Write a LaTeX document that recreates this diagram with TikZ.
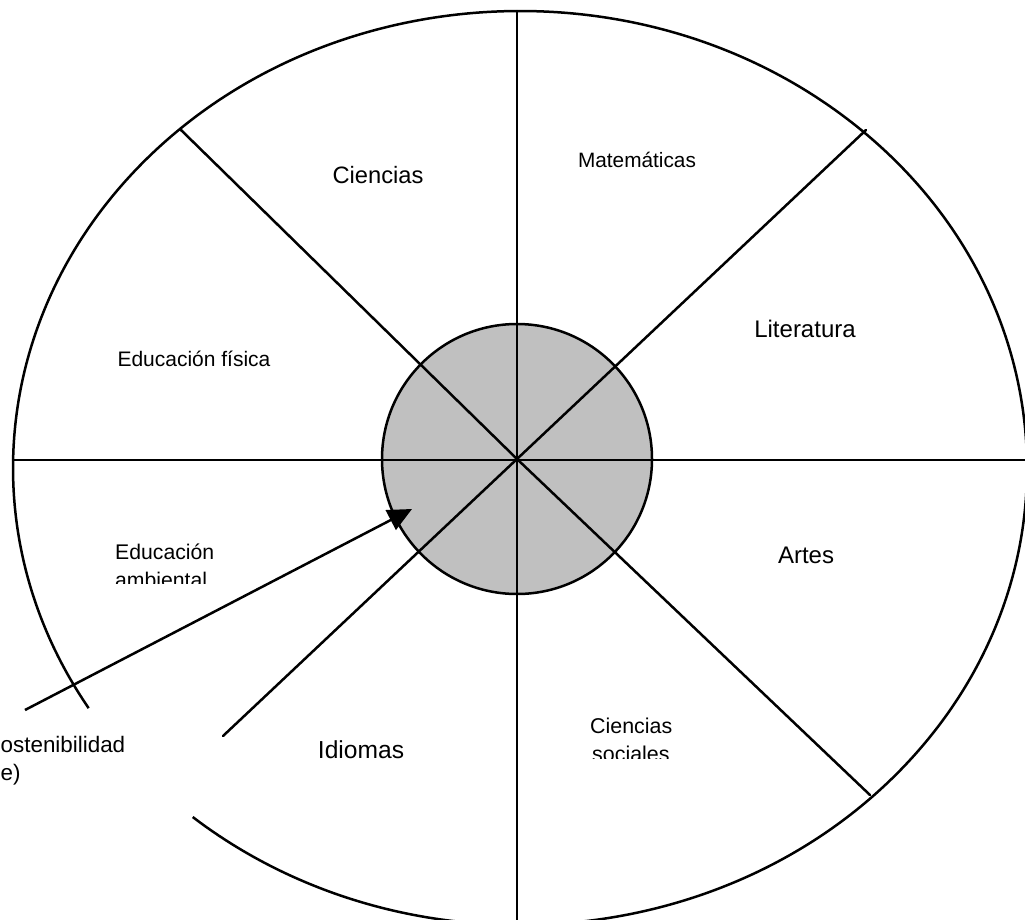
\documentclass[tikz,border=0pt]{standalone}
\usepackage{fontspec}
\setmainfont{Liberation Sans}
\usetikzlibrary{arrows.meta}
\tikzset{
  spoke/.style={line width=2.5pt, line cap=round},
  rim/.style={line width=2.5pt},
  lbl/.style={inner sep=0pt, anchor=base, text=black},
  lbll/.style={inner sep=0pt, anchor=base west, text=black},
  hubstyle/.style={circle, draw, line width=2.5pt, fill=hubgray, minimum size=270pt, inner sep=0pt},
}
\definecolor{hubgray}{RGB}{192,192,192}
\begin{document}
\begin{tikzpicture}[x=1pt,y=-1pt]
\useasboundingbox (0,0) rectangle (1025,919);
\clip (0,0) rectangle (1025,919);
% outer rim with gap at lower left
\draw[rim] ([shift={(229.8:507pt and 457pt)}]520,468) arc[start angle=229.8, end angle=571.7, x radius=507pt, y radius=457pt];
% hub
\node[hubstyle] (hub) at (517,459) {};
% rim end points of spokes
\coordinate (w) at (13,460);
\coordinate (e) at (1030,460);
\coordinate (n) at (517,11);
\coordinate (s) at (517,930);
\coordinate (nw) at (181,130);
\coordinate (ne) at (866,130);
\coordinate (se) at (870,795);
\coordinate (swend) at (223,736);
\draw[spoke] (w) -- (e);
\draw[spoke] (n) -- (s);
\draw[spoke] (nw) -- (hub.center);
\draw[spoke] (ne) -- (hub.center);
\draw[spoke] (se) -- (hub.center);
\draw[spoke] (hub.center) -- (swend);
% arrow
\coordinate (arrtail) at (25,710);
\coordinate (arrtip) at (412,509);
\draw[line width=2.5pt, -{Triangle[length=24pt,width=22pt]}] (arrtail) -- (arrtip);
% labels
\node[lbl, font=\fontsize{23.7}{28}\selectfont] (cien) at (378,183) {Ciencias};
\node[lbl, font=\fontsize{20.8}{28}\selectfont] (mate) at (637,167) {Matemáticas};
\node[lbl, font=\fontsize{24}{28}\selectfont] (lite) at (805,337) {Literatura};
\node[lbl, font=\fontsize{21}{28}\selectfont] (edfi) at (194,366) {Educación física};
\node[lbl, font=\fontsize{24}{28}\selectfont] (arte) at (806,563) {Artes};
\node[lbl, font=\fontsize{24.6}{28}\selectfont] (idio) at (361,758) {Idiomas};
\begin{scope}
\clip (100,530) rectangle (300,583);
\node[lbll, font=\fontsize{21.2}{28}\selectfont] (edam1) at (115,559) {Educación};
\node[lbll, font=\fontsize{21.2}{28}\selectfont] (edam2) at (115,587) {ambiental};
\end{scope}
\begin{scope}
\clip (570,700) rectangle (720,758);
\node[lbll, font=\fontsize{21.4}{28}\selectfont] (cs1) at (590,733) {Ciencias};
\node[lbll, font=\fontsize{21.4}{28}\selectfont] (cs2) at (592,761) {sociales};
\end{scope}
\node[inner sep=0pt, anchor=base west, font=\fontsize{22.4}{28}\selectfont] (sost1) at (0.5,752) {ostenibilidad};
\node[inner sep=0pt, anchor=base west, font=\fontsize{22.4}{28}\selectfont] (sost2) at (0.5,780) {e)};
\end{tikzpicture}
\end{document}
